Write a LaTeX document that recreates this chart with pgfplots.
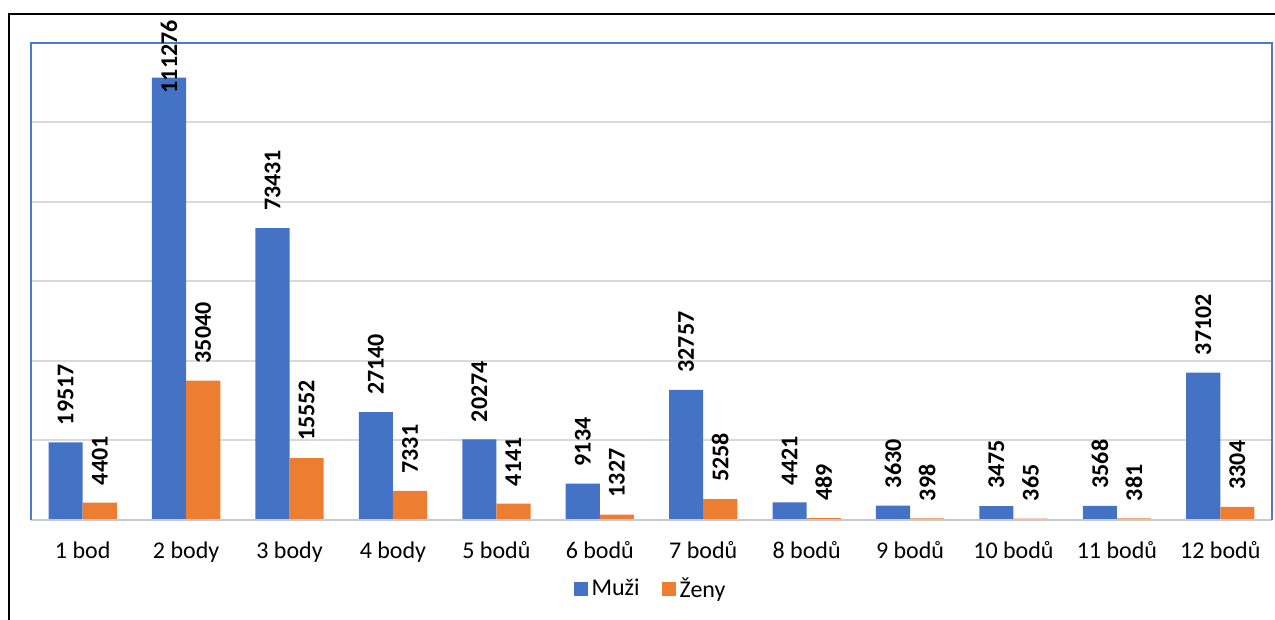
\documentclass[border=0pt]{standalone}
\usepackage{pgfplots}
\pgfplotsset{compat=1.18}
\usepackage{pgfplotstable}
\usepackage{fontspec}
\setmainfont{Carlito}
\definecolor{cblue}{HTML}{4472C4}
\definecolor{corange}{HTML}{ED7D31}
\definecolor{frameblue}{HTML}{4A7BD0}
\definecolor{gridgray}{HTML}{D9D9D9}
\definecolor{basegray}{HTML}{C5CAD3}

\pgfplotstableread{
x m z sh
0 19517 4401 0
1 111276 35040 -16.5
2 73431 15552 0
3 27140 7331 0
4 20274 4141 0
5 9134 1327 0
6 32757 5258 0
7 4421 489 0
8 3630 398 0
9 3475 365 0
10 3568 381 0
11 37102 3304 0
}\data

\begin{document}
\begin{tikzpicture}
\path[use as bounding box] (-15.5pt,-50pt) rectangle (622pt,260pt);
\draw[black, line width=0.75pt] (-11pt,-50pt) -- (-11pt,253pt) -- (622pt,253pt);
\begin{axis}[
  at={(0,0)}, anchor=south west, scale only axis,
  width=620.5pt, height=238.5pt,
  xmin=-0.5, xmax=11.5, ymin=0, ymax=120000,
  ybar=0pt, bar width=0.33,
  axis line style={draw=none},
  scaled y ticks=false,
  ytick={0,20000,...,120000}, yticklabels={},
  ymajorgrids, major grid style={gridgray, line width=1pt},
  major tick length=0pt,
  xtick={0,...,11},
  xticklabels={1 bod, 2 body, 3 body, 4 body, 5 bodů, 6 bodů, 7 bodů, 8 bodů, 9 bodů, 10 bodů, 11 bodů, 12 bodů},
  xticklabel style={font=\fontsize{12}{14}\selectfont, anchor=base, yshift=-19.5pt},
  nodes near coords, point meta=explicit symbolic,
  every node near coord/.append style={font=\bfseries\fontsize{12}{14}\selectfont, rotate=90, anchor=west, inner xsep=8.5pt, inner ysep=0pt, black},
  clip=false,
  legend columns=-1,
  legend style={draw=none, at={(0.5,-0.1447)}, anchor=center, font=\fontsize{12}{14}\selectfont,
    /tikz/every even column/.append style={column sep=9pt}},
]
\addplot[fill=cblue, draw=none,
  legend image code/.code={\fill[cblue] (0pt,-3.5pt) rectangle (7pt,3.5pt);},
  visualization depends on={\thisrow{sh} \as \shval},
  every node near coord/.append style={xshift=\shval pt}]
  table[x=x, y=m, meta=m] {\data};
\addplot[fill=corange, draw=none,
  legend image code/.code={\fill[corange] (0pt,-3.5pt) rectangle (7pt,3.5pt);}]
  table[x=x, y=z, meta=z] {\data};
\legend{Muži, Ženy}
\draw[basegray, line width=1pt] (rel axis cs:0,0) -- (rel axis cs:1,0);
\draw[frameblue, line width=0.75pt] (rel axis cs:0,0) -- (rel axis cs:0,1) -- (rel axis cs:1,1) -- (rel axis cs:1,0);
\end{axis}
\end{tikzpicture}
\end{document}
